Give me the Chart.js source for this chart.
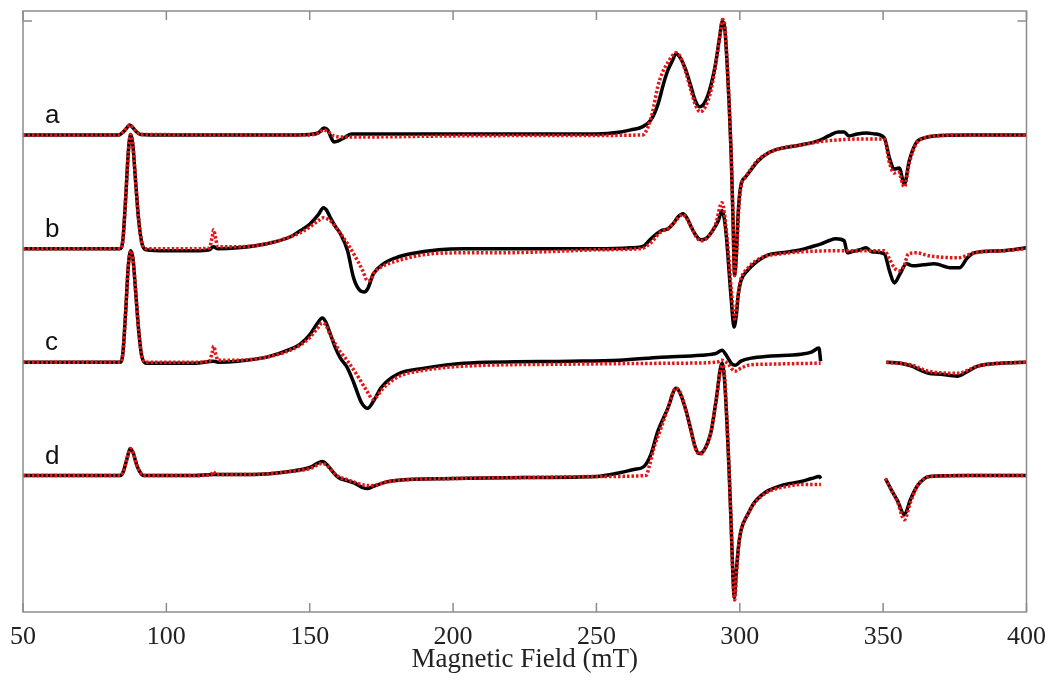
<!DOCTYPE html>
<html>
<head>
<meta charset="utf-8">
<script src="https://cdn.jsdelivr.net/npm/chart.js@4.4.1/dist/chart.umd.min.js"></script>
<style>
  html, body { margin: 0; padding: 0; background: #fff; }
  canvas { display: block; }
</style>
</head>
<body>
<canvas id="epr-chart" width="1050" height="685"></canvas>
<script>
// field in mT, signal relative to each trace's own baseline (arbitrary units, up = positive)
// null marks the field window that was cut out of traces c and d
const traceLabels = ["a", "b", "c", "d"];
const traceOffsets = [475.5, 362, 249, 136];
const fieldTicks = [50, 100, 150, 200, 250, 300, 350, 400];
const frameTicksY = [589];

const expA = [
  [50, 0], [83.5, 0], [85, 3], [86.2, 7], [87.2, 10], [88.4, 7], [89.6, 3], [91, 0.5], [100, 0], [120, 0], [140, 0],
  [150, 0.5], [153, 2], [155, 7], [156.3, 5], [157.5, -3], [158.5, -7], [160, -6], [162, -3], [164.5, 1], [180, 1],
  [220, 1], [250, 1], [258.5, 3], [262, 5], [266, 8], [269, 15], [271.4, 30], [273.5, 52], [275, 65], [276.5, 74],
  [277.8, 81], [279.2, 77], [281, 66], [283, 48], [284.5, 34], [286, 28], [287.5, 31], [289.5, 45], [291.5, 70],
  [293, 98], [293.9, 113], [294.8, 105], [295.6, 70], [296.3, 30], [297, -20], [297.6, -80], [298.2, -140],
  [298.8, -120], [299.5, -75], [300.4, -50], [302, -42], [303.9, -35], [306, -27], [309.9, -18], [315, -13],
  [321.4, -10], [327.3, -6], [331, -1], [334.3, 3], [336.4, 3], [338, -1], [341, 1], [344.1, 2], [347, 1],
  [350.4, -3], [352.2, -23], [353.9, -34], [355.6, -33], [357.4, -49], [359.1, -26], [361.5, -8], [364.4, -3],
  [367.8, -1], [380, 0], [400, 0],
];
const simA = [
  [50, 0], [83.5, 0], [85, 3], [86.2, 7], [87.2, 10], [88.4, 7], [89.6, 3], [91, 0.5], [150, 0], [153, 2], [155, 5],
  [156.5, 3], [158.5, -1], [162, -2], [170, -2], [200, -1], [250, -0.5], [266.2, 0], [268, 8], [269.5, 22],
  [271.4, 48], [273, 62], [274.9, 72], [276.5, 79], [277.8, 82], [279.2, 78], [281, 64], [283, 44], [284.5, 30],
  [286.2, 23], [288, 28], [290, 45], [292, 78], [293.3, 104], [294, 115], [294.8, 108], [295.6, 70], [296.3, 30],
  [297, -20], [297.6, -80], [298.2, -140], [298.9, -115], [299.6, -75], [300.4, -52], [302, -42], [303.9, -34],
  [306, -26], [309.9, -18], [315, -13], [321.4, -10], [327.3, -7], [334.3, -5], [344, -4], [350.4, -4],
  [352.2, -28], [353.9, -38], [355.3, -37], [357.4, -52], [359.1, -28], [361.5, -9], [364.4, -3], [367.8, -1],
  [380, 0], [400, 0],
];

const expB = [
  [50, 0], [83.8, 0], [84.8, 8], [85.8, 50], [86.7, 95], [87.5, 114], [88.3, 104], [89.2, 70], [90.3, 30],
  [91.5, 5], [93, -1], [100, -2], [110, -2], [115, -1], [116.4, 2], [118, 0], [125, 1], [135, 5], [143.3, 12],
  [146.7, 18], [150.2, 25], [153, 34], [154.8, 41], [156, 38], [157.2, 31], [159, 22], [160.7, 15], [163.2, -2],
  [165.3, -29], [167.7, -42], [169, -43], [170.2, -40], [172.2, -25], [175.7, -15], [180, -9], [185.2, -5],
  [195, -1], [203.7, 0], [230, 0], [250, 0], [262, 1], [266.6, 3], [269, 10], [272.5, 18], [275, 20],
  [276.8, 25], [278.5, 32], [280.2, 35], [281.5, 31], [283, 22], [284.8, 13], [286.5, 9], [288.5, 11],
  [290.5, 18], [292.5, 28], [293.8, 38], [294.6, 30], [295.4, 10], [296.2, -20], [297, -50], [298, -78],
  [298.8, -66], [299.5, -45], [300.4, -32], [302.9, -21], [305, -15], [307.4, -10], [309.9, -6], [314.4, -4],
  [321.4, -1], [325, 2], [328.4, 5], [331, 8], [333.5, 10], [336.4, 8], [337.5, -4], [339, -3], [342, -1],
  [344.1, 1], [346, -3], [350.4, -5], [352.2, -22], [353.9, -34], [355.9, -25], [358.1, -15], [360.4, -17],
  [364, -16], [367.8, -15], [373.8, -19], [376.6, -19], [379.4, -9], [381.8, -4], [391, -2], [400, 1],
];
const simB = [
  [50, 0], [83.8, 0], [84.8, 8], [85.8, 50], [86.7, 95], [87.5, 114], [88.3, 104], [89.2, 70], [90.3, 30],
  [91.5, 5], [93, 0], [110, 0], [115, 1], [116, 12], [116.5, 19], [117.2, 10], [118, 2], [125, 2], [135, 5],
  [143.3, 12], [146.7, 16], [150.2, 22], [153, 28], [154.8, 31], [156, 30], [157.2, 28], [160, 18], [163.2, 5],
  [166.7, -12], [168.5, -22], [170.2, -32], [171.5, -30], [172.2, -25], [175, -18], [180.6, -12], [186, -8],
  [192.2, -5], [205, -4], [215.6, -4], [241, -2], [250, -1], [265, 0], [266.6, 1], [269, 6], [272.5, 17],
  [275, 20], [277, 26], [280.2, 34], [281.5, 30], [283, 22], [284.8, 12], [286.5, 8], [289, 12], [291.5, 24],
  [293.8, 46], [294.6, 36], [295.4, 15], [296.2, -10], [297, -40], [298.2, -70], [299, -55], [299.8, -38],
  [300.4, -30], [302.9, -19], [307.4, -9], [314.4, -5], [321.4, -3], [334, -2], [350.4, -2], [352.2, -10],
  [353.9, -19], [355.6, -22], [357.3, -17], [358.8, -5], [361.5, -4], [366, -7], [376, -9], [381.8, -4],
  [391, -2], [400, 0],
];

const expC = [
  [50, 0], [83.8, 0], [84.8, 8], [85.8, 50], [86.7, 95], [87.6, 111], [88.4, 102], [89.3, 70], [90.4, 30],
  [91.5, 5], [93, -1], [110, -1], [116.4, 1], [118, 0], [125, 1], [135, 5], [143.3, 13], [146.7, 18],
  [150.2, 28], [152.5, 38], [154.4, 44], [155.6, 40], [157.2, 28], [159, 14], [160.7, 4], [163, -5],
  [165.3, -20], [168, -40], [170.2, -46], [172, -40], [175, -25], [180.6, -12], [190, -6], [203.7, -1],
  [241, 1], [258, 2], [272.5, 5], [286.5, 7], [292, 9], [293.8, 12], [295.5, 6], [297.3, -2], [298.5, -3],
  [300.4, 1], [304, 4], [309.9, 6], [321.4, 8], [325, 10], [327.6, 14], [328.2, 1], [339, null], [351.1, 0],
  [356, -1], [360, -4], [363, -8], [365.8, -11], [370, -12], [376, -14], [379, -10], [383, -4], [391, -1],
  [400, 0],
];
const simC = [
  [50, 0], [83.8, 0], [84.8, 8], [85.8, 50], [86.7, 95], [87.6, 111], [88.4, 102], [89.3, 70], [90.4, 30],
  [91.5, 5], [93, 0], [110, 0], [115, 1], [116, 10], [116.5, 16], [117.2, 8], [118, 2], [125, 2], [135, 5],
  [143.3, 12], [146.7, 17], [150.2, 25], [152.5, 33], [154.4, 39], [155.6, 37], [157.2, 27], [160, 13],
  [163, 2], [167, -15], [170.2, -30], [172, -37], [173.5, -34], [175, -28], [180.6, -15], [190, -8],
  [203.7, -4], [241, -2], [280, -1], [292, 0], [293.8, 2], [296, -2], [298.2, -9], [300.4, -6], [303, -3],
  [310, -2], [328.2, -1], [339, null], [351.1, 0], [360, -3], [365.8, -9], [376, -11], [383, -4], [391, -1],
  [400, 0],
];

const expD = [
  [50, 0], [84, 0], [85, 4], [86.2, 16], [87.4, 27], [88.5, 22], [89.6, 11], [90.9, 3], [92, 0], [110, 0],
  [116.4, 1], [130, 1], [143, 4], [150, 8], [154.4, 14], [156, 11], [158, 4], [160, -2], [163, -5], [166, -8],
  [168.5, -12], [170.2, -13], [172, -11], [176, -7], [180, -5], [200, -3], [225, -2], [250, -1], [258.5, 3],
  [263, 6], [266.6, 9], [269, 21], [271.4, 44], [274.9, 67], [277.8, 87], [279.2, 82], [281.2, 65], [283, 45],
  [284.5, 28], [285.8, 22], [287.5, 25], [290, 44], [291.7, 74], [293.8, 112], [294.6, 98], [295.4, 60],
  [296.2, 10], [297, -50], [297.6, -100], [298.1, -122], [298.8, -95], [299.6, -70], [300.4, -55],
  [302.9, -38], [305, -27], [307.4, -20], [309.9, -15], [314.4, -10], [321.4, -6], [325, -3], [327.8, -1],
  [328.3, -3], [339, null], [350.8, -3], [352.8, -14], [355, -25], [357.4, -39], [359.5, -24], [362, -10],
  [364.4, -3], [366.1, -1], [380, 0], [400, 0],
];
const simD = [
  [50, 0], [84, 0], [85, 4], [86.2, 16], [87.4, 27], [88.5, 22], [89.6, 11], [90.9, 3], [92, 0], [110, 0],
  [115.5, 1], [116.4, 4], [117.3, 1], [130, 1], [143, 4], [150, 7], [154.4, 12], [156, 10], [158, 4], [160, -1],
  [163, -4], [166, -7], [170.2, -10], [172, -10], [176, -7], [180, -5], [200, -3], [225, -2], [250, -1],
  [267.3, 0], [268.5, 10], [270, 27], [272.5, 47], [274.9, 67], [277.7, 87], [279.2, 83], [281.2, 65],
  [283, 44], [284.5, 27], [286, 21], [287.5, 25], [290, 44], [291.7, 74], [293.5, 108], [294.2, 110],
  [294.8, 95], [295.5, 55], [296.2, 10], [297, -50], [297.6, -100], [298.2, -124], [298.9, -95], [299.6, -70],
  [300.4, -55], [302.9, -38], [305, -28], [307.4, -21], [309.9, -16], [314.4, -12], [321.4, -9], [328.3, -9],
  [339, null], [350.8, -3], [352.8, -14], [355, -26], [357.4, -44], [359.5, -27], [362, -10], [364.4, -3],
  [366.1, -1], [380, 0], [400, 0],
];

const expTraces = [expA, expB, expC, expD];
const simTraces = [simA, simB, simC, simD];

const frameColor = "#8c8c8c";
const textColor = "#222";
const serifFont = "'Liberation Serif', 'Times New Roman', serif";

function toPoints(pairs, offset) {
  return pairs.map(([field, signal]) => ({ x: field, y: signal === null ? null : signal + offset }));
}

function buildDatasets() {
  const datasets = [];
  traceLabels.forEach((label, index) => {
    datasets.push({
      label: `${label} experiment`,
      data: toPoints(expTraces[index], traceOffsets[index]),
      borderColor: "#000",
      borderWidth: 3.5,
      order: 2,
    });
    datasets.push({
      label: `${label} simulation`,
      data: toPoints(simTraces[index], traceOffsets[index]),
      borderColor: "rgb(232, 20, 20)",
      borderWidth: 3.5,
      borderDash: [2.5, 2],
      order: 1,
    });
  });
  return datasets;
}

// matlab style box with inward ticks, plus the a-d trace tags
const framePlugin = {
  id: "frame",
  afterDatasetsDraw(chart) {
    const { ctx, chartArea, scales } = chart;
    const { left, right, top, bottom } = chartArea;
    ctx.save();
    ctx.strokeStyle = frameColor;
    ctx.lineWidth = 1.5;
    ctx.strokeRect(left, top, right - left, bottom - top);
    ctx.beginPath();
    fieldTicks.forEach((value) => {
      const px = scales.x.getPixelForValue(value);
      ctx.moveTo(px, bottom);
      ctx.lineTo(px, bottom - 9);
      ctx.moveTo(px, top);
      ctx.lineTo(px, top + 9);
    });
    frameTicksY.forEach((value) => {
      const py = scales.y.getPixelForValue(value);
      ctx.moveTo(left, py);
      ctx.lineTo(left + 9, py);
      ctx.moveTo(right, py);
      ctx.lineTo(right - 9, py);
    });
    ctx.stroke();

    ctx.fillStyle = "#111";
    ctx.font = "26px 'Liberation Sans', Arial, sans-serif";
    ctx.textAlign = "left";
    ctx.textBaseline = "alphabetic";
    traceLabels.forEach((label, index) => {
      const px = scales.x.getPixelForValue(57.7);
      const py = scales.y.getPixelForValue(traceOffsets[index] + 12);
      ctx.fillText(label, px, py);
    });
    ctx.restore();
  },
};

new Chart(document.querySelector("#epr-chart"), {
  type: "line",
  data: { datasets: buildDatasets() },
  plugins: [framePlugin],
  options: {
    responsive: false,
    animation: false,
    devicePixelRatio: 1,
    layout: { padding: { left: 23, right: 21, top: 11, bottom: 8 } },
    elements: {
      point: { radius: 0 },
      line: { cubicInterpolationMode: "monotone", fill: false },
    },
    plugins: {
      legend: { display: false },
      tooltip: { enabled: false },
    },
    scales: {
      x: {
        type: "linear",
        min: 50,
        max: 400,
        afterBuildTicks: (scale) => {
          scale.ticks = fieldTicks.map((value) => ({ value }));
        },
        ticks: {
          color: textColor,
          padding: 4,
          maxRotation: 0,
          autoSkip: false,
          font: { family: serifFont, size: 26, lineHeight: 1 },
        },
        grid: { display: false },
        border: { display: false },
        title: {
          display: true,
          text: "Magnetic Field (mT)",
          color: textColor,
          padding: { top: -8, bottom: 4 },
          font: { family: serifFont, size: 27, lineHeight: 1 },
        },
      },
      y: {
        type: "linear",
        min: 0,
        max: 599,
        display: false,
      },
    },
  },
});
</script>
</body>
</html>
